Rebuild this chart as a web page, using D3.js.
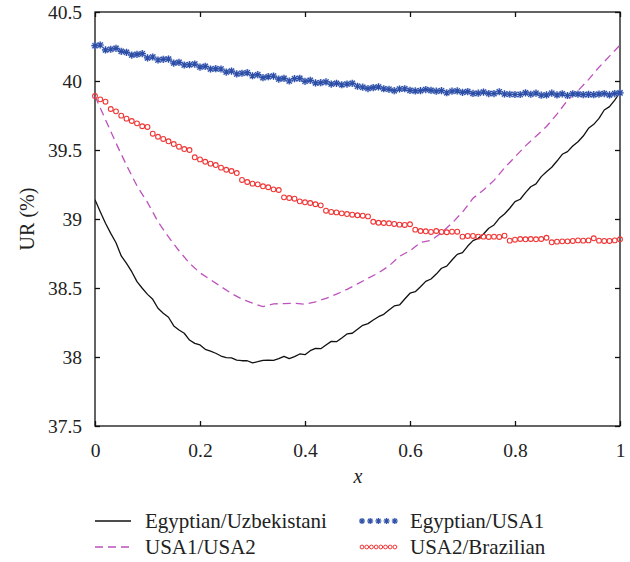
<!DOCTYPE html>
<html>
<head>
<meta charset="utf-8">
<script src="https://cdn.jsdelivr.net/npm/d3@7"></script>
<style>
  html, body { margin: 0; padding: 0; background: #fff; }
  svg { display: block; }
</style>
</head>
<body>
<svg id="chart" width="630" height="562"></svg>
<script>
// Utilization rate (UR) for four population pairs as a function of x
const xFine = d3.range(0, 101).map(i => i / 100);      // 0.00 .. 1.00
const xCoarse = d3.range(0, 51).map(i => i / 50);      // 0.00 .. 1.00 step 0.02

const egyptUzbek = [
  39.14, 39.053, 38.969, 38.896, 38.828, 38.732, 38.679, 38.618, 38.546, 38.498,
  38.454, 38.418, 38.353, 38.317, 38.288, 38.225, 38.196, 38.172, 38.123, 38.099,
  38.087, 38.056, 38.043, 38.027, 38.007, 37.995, 37.993, 37.978, 37.973, 37.973,
  37.957, 37.966, 37.976, 37.978, 37.976, 37.988, 38.005, 37.988, 38.003, 38.022,
  38.017, 38.046, 38.063, 38.060, 38.087, 38.113, 38.111, 38.138, 38.167, 38.172,
  38.201, 38.230, 38.242, 38.268, 38.292, 38.309, 38.341, 38.370, 38.377, 38.420,
  38.462, 38.473, 38.509, 38.548, 38.565, 38.601, 38.643, 38.659, 38.703, 38.744,
  38.756, 38.804, 38.843, 38.860, 38.891, 38.933, 38.957, 39.005, 39.036, 39.078,
  39.126, 39.143, 39.191, 39.234, 39.254, 39.307, 39.343, 39.375, 39.420, 39.469,
  39.488, 39.529, 39.560, 39.601, 39.657, 39.686, 39.729, 39.790, 39.814, 39.862,
  39.918
];

const usa1Usa2 = [
  39.89, 39.72, 39.55, 39.39, 39.24, 39.12, 38.98, 38.87, 38.77, 38.68,
  38.61, 38.56, 38.51, 38.46, 38.42, 38.39, 38.365, 38.385, 38.387, 38.389,
  38.383, 38.40, 38.425, 38.455, 38.49, 38.53, 38.57, 38.61, 38.66, 38.73,
  38.77, 38.83, 38.845, 38.90, 38.97, 39.05, 39.15, 39.21, 39.28, 39.37,
  39.45, 39.53, 39.60, 39.67, 39.76, 39.86, 39.93, 40.01, 40.10, 40.18,
  40.26
];

const egyptUsa1 = [
  40.256, 40.261, 40.225, 40.230, 40.237, 40.215, 40.208, 40.188, 40.193, 40.198,
  40.167, 40.174, 40.152, 40.157, 40.159, 40.130, 40.135, 40.116, 40.118, 40.123,
  40.101, 40.106, 40.087, 40.089, 40.087, 40.065, 40.072, 40.051, 40.056, 40.060,
  40.038, 40.046, 40.024, 40.031, 40.036, 40.014, 40.019, 40.000, 40.017, 40.019,
  39.998, 40.005, 39.986, 39.988, 39.993, 39.978, 39.983, 39.973, 39.978, 39.983,
  39.962, 39.955, 39.945, 39.952, 39.957, 39.944, 39.940, 39.930, 39.942, 39.944,
  39.932, 39.928, 39.930, 39.938, 39.932, 39.926, 39.930, 39.915, 39.926, 39.928,
  39.918, 39.923, 39.910, 39.912, 39.920, 39.909, 39.909, 39.922, 39.906, 39.904,
  39.902, 39.902, 39.914, 39.904, 39.912, 39.897, 39.899, 39.912, 39.899, 39.907,
  39.895, 39.907, 39.905, 39.901, 39.903, 39.901, 39.905, 39.909, 39.899, 39.909,
  39.914
];

const usa2Brazil = [
  39.891, 39.867, 39.850, 39.797, 39.780, 39.749, 39.727, 39.710, 39.693, 39.672,
  39.667, 39.618, 39.596, 39.580, 39.563, 39.543, 39.524, 39.507, 39.500, 39.447,
  39.432, 39.415, 39.401, 39.391, 39.372, 39.357, 39.348, 39.333, 39.283, 39.268,
  39.256, 39.251, 39.237, 39.230, 39.215, 39.210, 39.157, 39.152, 39.147, 39.128,
  39.121, 39.116, 39.107, 39.099, 39.060, 39.051, 39.048, 39.041, 39.036, 39.031,
  39.027, 39.024, 39.019, 38.980, 38.973, 38.971, 38.969, 38.964, 38.959, 38.957,
  38.962, 38.923, 38.913, 38.911, 38.906, 38.913, 38.906, 38.904, 38.908, 38.908,
  38.872, 38.877, 38.877, 38.872, 38.872, 38.870, 38.872, 38.870, 38.879, 38.843,
  38.850, 38.855, 38.853, 38.855, 38.853, 38.855, 38.864, 38.831, 38.836, 38.838,
  38.838, 38.841, 38.845, 38.843, 38.845, 38.860, 38.843, 38.841, 38.841, 38.845,
  38.853
];

const xTicks = [0, 0.2, 0.4, 0.6, 0.8, 1];
const xTickLabels = ["0", "0.2", "0.4", "0.6", "0.8", "1"];
const yTicks = [37.5, 38, 38.5, 39, 39.5, 40, 40.5];
const yTickLabels = ["37.5", "38", "38.5", "39", "39.5", "40", "40.5"];

const seriesNames = ["Egyptian/Uzbekistani", "USA1/USA2", "Egyptian/USA1", "USA2/Brazilian"];

const COLORS = { black: "#111", text: "#222", magenta: "#bd52bd", blue: "#2d4ea6", halo: "#a9bbe6", red: "#f03535" };
const FONT = '"Liberation Serif"';

const svg = d3.select("#chart");
const plot = { left: 95, right: 620, top: 12, bottom: 426 };

const x = d3.scaleLinear().domain([0, 1]).range([plot.left, plot.right]);
const y = d3.scaleLinear().domain([37.5, 40.5]).range([plot.bottom, plot.top]);

// clip marks to the plotting frame
svg.append("clipPath").attr("id", "clip")
  .append("rect")
  .attr("x", plot.left).attr("y", plot.top)
  .attr("width", plot.right - plot.left).attr("height", plot.bottom - plot.top);

// axes with inward ticks on all four sides
const tickLen = 5;
svg.append("g").attr("transform", `translate(0,${plot.bottom})`)
  .call(d3.axisBottom(x).tickValues(xTicks).tickSizeInner(-tickLen).tickSizeOuter(0)
    .tickFormat((d, i) => xTickLabels[i]).tickPadding(17));
svg.append("g").attr("transform", `translate(0,${plot.top})`)
  .call(d3.axisTop(x).tickValues(xTicks).tickSizeInner(-tickLen).tickSizeOuter(0).tickFormat(""));
svg.append("g").attr("transform", `translate(${plot.left},0)`)
  .call(d3.axisLeft(y).tickValues(yTicks).tickSizeInner(-tickLen).tickSizeOuter(0)
    .tickFormat((d, i) => yTickLabels[i]).tickPadding(13));
svg.append("g").attr("transform", `translate(${plot.right},0)`)
  .call(d3.axisRight(y).tickValues(yTicks).tickSizeInner(-tickLen).tickSizeOuter(0).tickFormat(""));

svg.selectAll(".domain").remove();
svg.selectAll("g").attr("font-family", null).attr("font-size", null);
svg.selectAll(".tick line").attr("stroke", COLORS.black).attr("stroke-width", 1.3);
svg.selectAll(".tick text")
  .attr("fill", COLORS.text)
  .style("font-family", FONT).style("font-size", "19.5px");

svg.append("rect")
  .attr("x", plot.left).attr("y", plot.top)
  .attr("width", plot.right - plot.left).attr("height", plot.bottom - plot.top)
  .attr("fill", "none").attr("stroke", COLORS.black).attr("stroke-width", 1.3);

function addText(sel, size) {
  return sel.append("text").attr("fill", COLORS.text)
    .style("font-family", FONT).style("font-size", size + "px");
}

// axis titles
addText(svg, 20)
  .attr("transform", `translate(34,${(plot.top + plot.bottom) / 2}) rotate(-90)`)
  .attr("text-anchor", "middle").text("UR (%)");
addText(svg, 20)
  .attr("x", (plot.left + plot.right) / 2 + 0.5).attr("y", 483)
  .attr("text-anchor", "middle").style("font-style", "italic").text("x");

const marks = svg.append("g").attr("clip-path", "url(#clip)");

const line = d3.line().x(d => x(d[0])).y(d => y(d[1]));

// Egyptian/Uzbekistani: solid black
marks.append("path")
  .datum(xFine.map((v, i) => [v, egyptUzbek[i]]))
  .attr("d", line).attr("fill", "none")
  .attr("stroke", COLORS.black).attr("stroke-width", 1.3).attr("stroke-linejoin", "round");

// USA1/USA2: dashed magenta
marks.append("path")
  .datum(xCoarse.map((v, i) => [v, usa1Usa2[i]]))
  .attr("d", line).attr("fill", "none")
  .attr("stroke", COLORS.magenta).attr("stroke-width", 1.3).attr("stroke-dasharray", "8,5");

// asterisk marker path centered on (0,0)
function starPath(r) {
  const d = r * 0.72;
  return `M${-r},0L${r},0M0,${-r}L0,${r}M${-d},${-d}L${d},${d}M${-d},${d}L${d},${-d}`;
}

// Egyptian/USA1: blue asterisks
const stars = svg.append("g");
xFine.forEach((v, i) => {
  stars.append("circle").attr("cx", x(v)).attr("cy", y(egyptUsa1[i])).attr("r", 3.6)
    .attr("fill", COLORS.halo).attr("opacity", 0.55);
});
xFine.forEach((v, i) => {
  stars.append("path").attr("transform", `translate(${x(v)},${y(egyptUsa1[i])})`)
    .attr("d", starPath(3.6)).attr("stroke", COLORS.blue).attr("stroke-width", 1.2).attr("fill", "none");
});

// USA2/Brazilian: red open circles
svg.append("g").selectAll("circle")
  .data(xFine.map((v, i) => [v, usa2Brazil[i]]))
  .join("circle")
  .attr("cx", d => x(d[0])).attr("cy", d => y(d[1])).attr("r", 2.4)
  .attr("fill", "none").attr("stroke", COLORS.red).attr("stroke-width", 1.1);

// legend
const legend = svg.append("g");
const row1 = 521, row2 = 547;
legend.append("line").attr("x1", 95).attr("x2", 131).attr("y1", row1).attr("y2", row1)
  .attr("stroke", COLORS.black).attr("stroke-width", 1.3);
legend.append("line").attr("x1", 95).attr("x2", 131).attr("y1", row2).attr("y2", row2)
  .attr("stroke", COLORS.magenta).attr("stroke-width", 1.3).attr("stroke-dasharray", "8,5");
d3.range(5).forEach(k => {
  const cx = 362 + k * 8.2;
  legend.append("circle").attr("cx", cx).attr("cy", row1).attr("r", 3).attr("fill", COLORS.halo).attr("opacity", 0.55);
  legend.append("path").attr("transform", `translate(${cx},${row1})`)
    .attr("d", starPath(3)).attr("stroke", COLORS.blue).attr("stroke-width", 1.1).attr("fill", "none");
});
d3.range(8).forEach(k => {
  legend.append("circle").attr("cx", 362 + k * 4.7).attr("cy", row2).attr("r", 1.9)
    .attr("fill", "none").attr("stroke", COLORS.red).attr("stroke-width", 1);
});
[[145, row1, seriesNames[0]], [145, row2, seriesNames[1]], [410, row1, seriesNames[2]], [410, row2, seriesNames[3]]]
  .forEach(([tx, ty, label]) => {
    addText(legend, 21).attr("x", tx).attr("y", ty + 7).text(label);
  });
</script>
</body>
</html>
